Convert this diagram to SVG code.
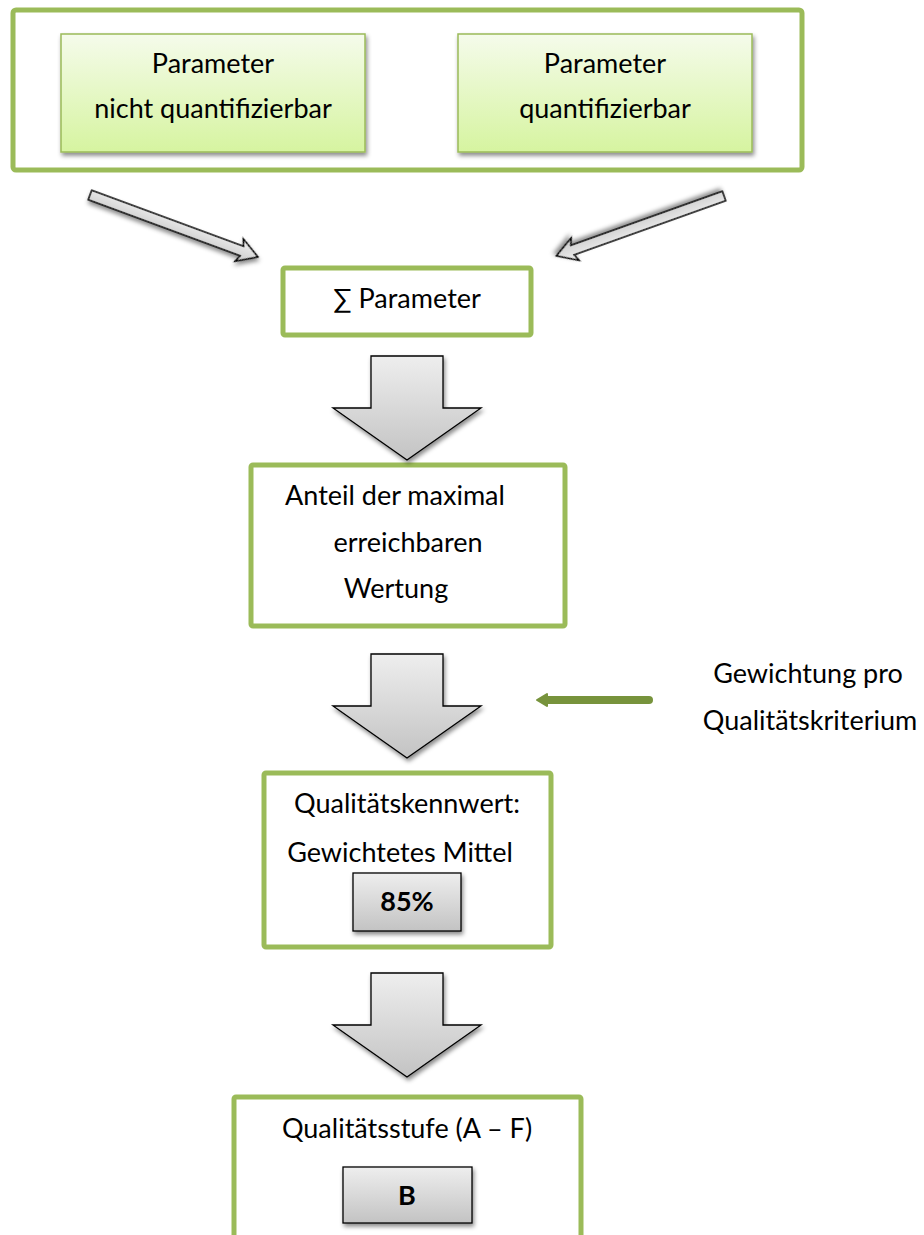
<svg xmlns="http://www.w3.org/2000/svg" xmlns:xlink="http://www.w3.org/1999/xlink" width="924" height="1235" viewBox="0 0 924 1235">
  <style>
    .frame { fill: #ffffff; stroke: #9bbb59; stroke-width: 5; }
    .param { fill: url(#greenFill); stroke: #9bbb59; stroke-width: 1.5; }
    .chip { fill: url(#greyFill); stroke: #000000; stroke-width: 1.3; }
    .bigarrow { fill: url(#greyFill); stroke: #000000; stroke-width: 1.3; stroke-linejoin: miter; }
    .slim { fill: url(#slimFill); stroke: #000000; stroke-width: 1.5; }
    text { font-family: Lato, "Open Sans", "Liberation Sans", sans-serif; font-size: 27px; fill: #000000; text-anchor: middle; }
    .bold { font-weight: bold; }
  </style>
  <defs>
    <linearGradient id="greenFill" x1="0" y1="0" x2="0" y2="1">
      <stop offset="0" stop-color="#f5fbeb"/>
      <stop offset="1" stop-color="#d6f4a0"/>
    </linearGradient>
    <linearGradient id="greyFill" x1="0" y1="0" x2="0" y2="1">
      <stop offset="0" stop-color="#eeeeee"/>
      <stop offset="1" stop-color="#c3c3c3"/>
    </linearGradient>
    <linearGradient id="slimFill" x1="0" y1="0" x2="0" y2="1">
      <stop offset="0" stop-color="#f2f2f2"/>
      <stop offset="1" stop-color="#c8c8c8"/>
    </linearGradient>
    <filter id="shadow" x="-20%" y="-20%" width="140%" height="150%">
      <feDropShadow dx="1.5" dy="3" stdDeviation="2" flood-color="#000000" flood-opacity="0.45"/>
    </filter>
    <path id="downArrow" class="bigarrow" d="M-36,0 H36 V52 H74 L0,104 L-74,52 H-36 Z"/>
  </defs>

  <!-- input parameters -->
  <g id="node-inputs">
    <rect class="frame" x="13" y="10" width="789" height="160" rx="3"/>
  </g>
  <g id="node-param-nq">
    <rect class="param" x="61" y="34" width="304" height="118" filter="url(#shadow)"/>
    <text x="213" y="73">Parameter</text>
    <text x="213" y="118">nicht quantifizierbar</text>
  </g>
  <g id="node-param-q">
    <rect class="param" x="458" y="34" width="294" height="118" filter="url(#shadow)"/>
    <text x="605" y="73">Parameter</text>
    <text x="605" y="118">quantifizierbar</text>
  </g>

  <!-- processing steps -->
  <g id="node-sum">
    <rect class="frame" x="283" y="268" width="248" height="67" rx="2"/>
    <text x="407" y="308">∑ Parameter</text>
  </g>
  <g id="node-share">
    <rect class="frame" x="251" y="465" width="314" height="161" rx="2"/>
    <text x="395" y="505">Anteil der maximal</text>
    <text x="408" y="552">erreichbaren</text>
    <text x="396" y="598">Wertung</text>
  </g>
  <g id="node-weighting">
    <text x="808" y="683">Gewichtung pro</text>
    <text x="810" y="730">Qualitätskriterium</text>
  </g>
  <g id="node-score">
    <rect class="frame" x="264" y="773" width="287" height="174" rx="2"/>
    <text x="407" y="813">Qualitätskennwert:</text>
    <text x="400" y="862">Gewichtetes Mittel</text>
    <rect class="chip" x="353" y="873" width="108" height="58" filter="url(#shadow)"/>
    <text class="bold" x="407" y="911">85%</text>
  </g>
  <g id="node-level">
    <rect class="frame" x="234" y="1097" width="347" height="160" rx="2"/>
    <text x="407" y="1138">Qualitätsstufe (A – F)</text>
    <rect class="chip" x="343" y="1167" width="129" height="56" filter="url(#shadow)"/>
    <text class="bold" x="407" y="1205">B</text>
  </g>

  <!-- connectors -->
  <g id="connectors">
    <polygon class="slim" filter="url(#shadow)" transform="translate(90,195) rotate(20.25)" points="0,-5 162,-5 159,-12 179,0 159,12 162,5 0,5"/>
    <polygon class="slim" filter="url(#shadow)" transform="translate(724,196) rotate(160.35)" points="0,-5 161,-5 158,-12 178,0 158,12 161,5 0,5"/>
    <use xlink:href="#downArrow" x="407" y="356" filter="url(#shadow)"/>
    <use xlink:href="#downArrow" x="407" y="654" filter="url(#shadow)"/>
    <use xlink:href="#downArrow" x="407" y="973" filter="url(#shadow)"/>
    <line x1="649" y1="700" x2="546" y2="700" stroke="#77933c" stroke-width="8" stroke-linecap="round"/>
    <polygon points="537,700 547,694 547,706" fill="#77933c" stroke="#77933c" stroke-width="2" stroke-linejoin="round"/>
  </g>
</svg>
